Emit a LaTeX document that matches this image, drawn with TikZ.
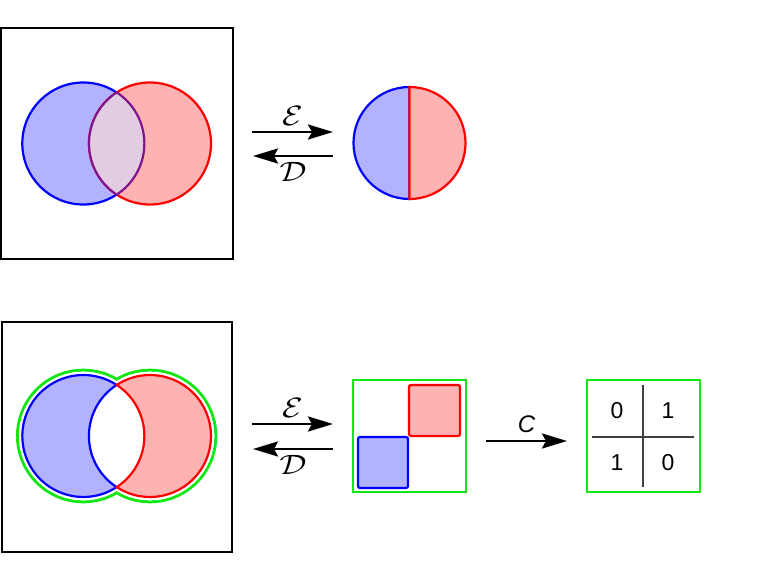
\RequirePackage{fix-cm}
\documentclass[tikz,border=0pt]{standalone}
\usepackage{fontspec}
\usepackage{graphicx}
\setmainfont{Liberation Sans}
\usetikzlibrary{arrows.meta}
\definecolor{lensfill}{RGB}{226,204,226}
\definecolor{lensline}{RGB}{128,20,140}
\definecolor{boxgreen}{RGB}{20,230,20}
\newcommand{\wide}[1]{\scalebox{1.2}[1]{$#1$}}
\begin{document}
\begin{tikzpicture}[
     x=1pt,y=-1pt,
     frame/.style={draw=black,line width=2.6pt},
     setA/.style={draw=blue,fill=blue!30,line width=2.2pt},
     setB/.style={draw=red,fill=red!30,line width=2.2pt},
     cell/.style={draw=boxgreen,line width=2.6pt},
     map/.style={line width=2.8pt,-{Stealth[length=25pt,width=15pt,inset=4pt]}},
     lbl/.style={font=\fontsize{28}{32}\selectfont,inner sep=0pt},
     bit/.style={font=\fontsize{23}{27}\selectfont,inner sep=0pt}
   ]
   \path[use as bounding box] (0,0) rectangle (761,581);
   % Overlapping sets.
   \draw[frame] (1,28) rectangle (233,259);
   \coordinate (a1) at (83.3,143.5);
   \coordinate (b1) at (150,143.5);
   \draw[setA] (a1) circle[radius=61];
   \draw[setB] (b1) circle[radius=61];
   \draw[lensline,fill=lensfill,line width=2.2pt] (b1) ++(123.1:61)
     arc[start angle=123.1,end angle=236.9,radius=61]
     arc[start angle=-56.9,end angle=56.9,radius=61] -- cycle;
   % Encoder and decoder.
   \coordinate (e1s) at (252,132);
   \coordinate (e1t) at (333,132);
   \coordinate (d1s) at (333,156);
   \coordinate (d1t) at (253,156);
   \draw[map] (e1s) -- node[lbl,above=5pt] (e1) {\wide{\mathcal{E}}} (e1t);
   \draw[map] (d1s) -- node[lbl,below=5pt] (d1) {\wide{\mathcal{D}}} (d1t);
   % Split disc.
   \coordinate (h) at (409.5,143);
   \draw[setA] (h) ++(90:56) arc[start angle=90,end angle=270,radius=56] -- cycle;
   \draw[setB] (h) ++(-90:56) arc[start angle=-90,end angle=90,radius=56] -- cycle;
   % Disjoint parts.
   \draw[frame] (2,322) rectangle (232,552);
   \coordinate (a2) at (83.3,436);
   \coordinate (b2) at (150,436);
   \draw[boxgreen,line width=3pt] (a2) circle[radius=65.8] (b2) circle[radius=65.8];
   \fill[white] (a2) circle[radius=64.3] (b2) circle[radius=64.3];
   \draw[setA] (a2) ++(56.9:61)
     arc[start angle=56.9,end angle=303.1,radius=61]
     arc[start angle=236.9,end angle=123.1,radius=61] -- cycle;
   \draw[setB] (b2) ++(123.1:61)
     arc[start angle=123.1,end angle=-123.1,radius=61]
     arc[start angle=-56.9,end angle=56.9,radius=61] -- cycle;
   \coordinate (e2s) at (252,424);
   \coordinate (e2t) at (333,424);
   \coordinate (d2s) at (333,449);
   \coordinate (d2t) at (253,449);
   \draw[map] (e2s) -- node[lbl,above=5pt] (e2) {\wide{\mathcal{E}}} (e2t);
   \draw[map] (d2s) -- node[lbl,below=5pt] (d2) {\wide{\mathcal{D}}} (d2t);
   % Blocks.
   \draw[cell] (353,380) rectangle (466,492);
   \draw[setB,rounded corners=2pt] (409,385) rectangle (460,436);
   \draw[setA,rounded corners=2pt] (358,437) rectangle (408,488);
   \coordinate (cs) at (486,441);
   \coordinate (ct) at (567,441);
   \draw[map] (cs) -- node[lbl,font=\fontsize{24}{28}\selectfont,above=7pt] (c) {\textit{C}} (ct);
   % Table.
   \draw[cell] (587,380) rectangle (700,492);
   \draw[gray!50!black,line width=1.2pt] (643,385) -- (643,487) (592,437) -- (694,437);
   \node[bit] (q00) at (617,411) {0};
   \node[bit] (q01) at (668,411) {1};
   \node[bit] (q10) at (617,463) {1};
   \node[bit] (q11) at (668,463) {0};
 \end{tikzpicture}
\end{document}
